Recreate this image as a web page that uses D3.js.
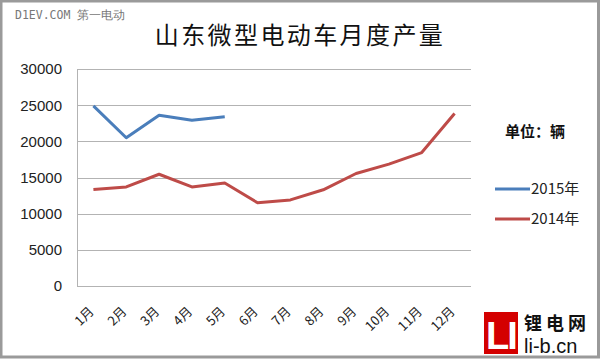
<!DOCTYPE html>
<html>
<head>
<meta charset="utf-8">
<script src="https://d3js.org/d3.v7.min.js"></script>
<style>
  html, body { margin: 0; padding: 0; background: #fff; }
  svg { display: block; }
</style>
</head>
<body>
<div id="chart"></div>
<script>
// Monthly output of micro electric vehicles, Shandong
const months = ['1月', '2月', '3月', '4月', '5月', '6月', '7月', '8月', '9月', '10月', '11月', '12月'];
const values2015 = [24900, 20500, 23600, 22900, 23400];
const values2014 = [13350, 13700, 15450, 13700, 14250, 11500, 11900, 13300, 15550, 16850, 18450, 23850];
const yTicks = [0, 5000, 10000, 15000, 20000, 25000, 30000];
const seriesNames = ['2015年', '2014年'];
const seriesColors = ['#4a7ebb', '#be4b48'];

const width = 600;
const height = 359;
const margin = { top: 69, right: 129, bottom: 73, left: 77 };

const svg = d3.select('#chart').append('svg')
    .attr('width', width)
    .attr('height', height)
    .style('font-family', '"Liberation Sans", Arial, sans-serif');

// outer frame
svg.append('rect')
    .attr('x', 1).attr('y', 1)
    .attr('width', width - 2.5).attr('height', height - 3)
    .attr('fill', '#fff')
    .attr('stroke', '#9a9a9a')
    .attr('stroke-width', 3);

const x = d3.scalePoint()
    .domain(months)
    .range([margin.left, width - margin.right])
    .padding(0.5);

const y = d3.scaleLinear()
    .domain([0, 30000])
    .range([height - margin.bottom, margin.top]);

// gridlines
svg.append('g')
    .selectAll('line')
    .data(yTicks)
    .join('line')
    .attr('x1', margin.left)
    .attr('x2', width - margin.right)
    .attr('y1', d => Math.round(y(d)) + 0.5)
    .attr('y2', d => Math.round(y(d)) + 0.5)
    .attr('stroke', '#b3b3b3')
    .attr('stroke-width', 1);

// left axis line
svg.append('line')
    .attr('x1', margin.left + 0.5).attr('x2', margin.left + 0.5)
    .attr('y1', y(30000)).attr('y2', y(0))
    .attr('stroke', '#b3b3b3');

// y tick labels
svg.append('g')
    .selectAll('text')
    .data(yTicks)
    .join('text')
    .attr('x', 62)
    .attr('y', d => y(d))
    .attr('dy', '0.36em')
    .attr('text-anchor', 'end')
    .style('font-size', '15px')
    .style('fill', '#222')
    .text(d => d);

// x tick labels, rotated
svg.append('g')
    .selectAll('text')
    .data(months)
    .join('text')
    .attr('transform', d => `translate(${x(d) - 2}, 309) rotate(-45)`)
    .attr('text-anchor', 'end')
    .attr('dy', '0.35em')
    .style('font-size', '13px')
    .style('font-family', '"Noto Sans CJK SC", sans-serif')
    .style('fill', '#222')
    .text(d => d);

// lines
const line = d3.line()
    .x((d, i) => x(months[i]))
    .y(d => y(d));

[values2015, values2014].forEach((vals, k) => {
    svg.append('path')
        .datum(vals)
        .attr('d', line)
        .attr('fill', 'none')
        .attr('stroke', seriesColors[k])
        .attr('stroke-width', 3)
        .attr('stroke-linejoin', 'round');
});

// title
svg.append('text')
    .attr('x', 300)
    .attr('y', 44)
    .attr('text-anchor', 'middle')
    .style('font-family', '"Noto Sans CJK SC", sans-serif')
    .style('font-size', '24px')
    .style('letter-spacing', '2.4px')
    .style('fill', '#111')
    .text('山东微型电动车月度产量');

// watermark
svg.append('text')
    .attr('x', 15)
    .attr('y', 19)
    .style('font-family', '"DejaVu Sans Mono", monospace')
    .style('font-size', '11.5px')
    .style('fill', '#777')
    .text('D1EV.COM 第一电动');

// unit label
svg.append('text')
    .attr('x', 505)
    .attr('y', 137)
    .style('font-family', '"Noto Sans CJK SC", sans-serif')
    .style('font-size', '15px')
    .style('font-weight', 'bold')
    .style('fill', '#111')
    .text('单位：辆');

// legend
const legend = svg.append('g')
    .selectAll('g')
    .data(seriesNames)
    .join('g')
    .attr('transform', (d, i) => `translate(495, ${189 + i * 30})`);

legend.append('line')
    .attr('x1', 0).attr('x2', 35)
    .attr('stroke', (d, i) => seriesColors[i])
    .attr('stroke-width', 3);

legend.append('text')
    .attr('x', 36)
    .attr('dy', '0.36em')
    .style('font-family', '"Noto Sans CJK SC", sans-serif')
    .style('font-size', '15px')
    .style('fill', '#222')
    .text(d => d);

// logo
const logo = svg.append('g');
logo.append('rect')
    .attr('x', 484).attr('y', 312)
    .attr('width', 34).attr('height', 42)
    .attr('fill', '#d40000');
logo.append('text')
    .attr('x', 501).attr('y', 349)
    .attr('text-anchor', 'middle')
    .style('font-size', '38px')
    .style('font-weight', 'bold')
    .style('fill', '#fff')
    .style('letter-spacing', '-2px')
    .text('LI');
logo.append('text')
    .attr('x', 524).attr('y', 330)
    .style('font-family', '"Noto Sans CJK SC", sans-serif')
    .style('font-size', '18px')
    .style('font-weight', 'bold')
    .style('letter-spacing', '4px')
    .style('fill', '#111')
    .text('锂电网');
logo.append('text')
    .attr('x', 524).attr('y', 353)
    .style('font-size', '20px')
    .style('fill', '#111')
    .text('li-b.cn');
</script>
</body>
</html>
